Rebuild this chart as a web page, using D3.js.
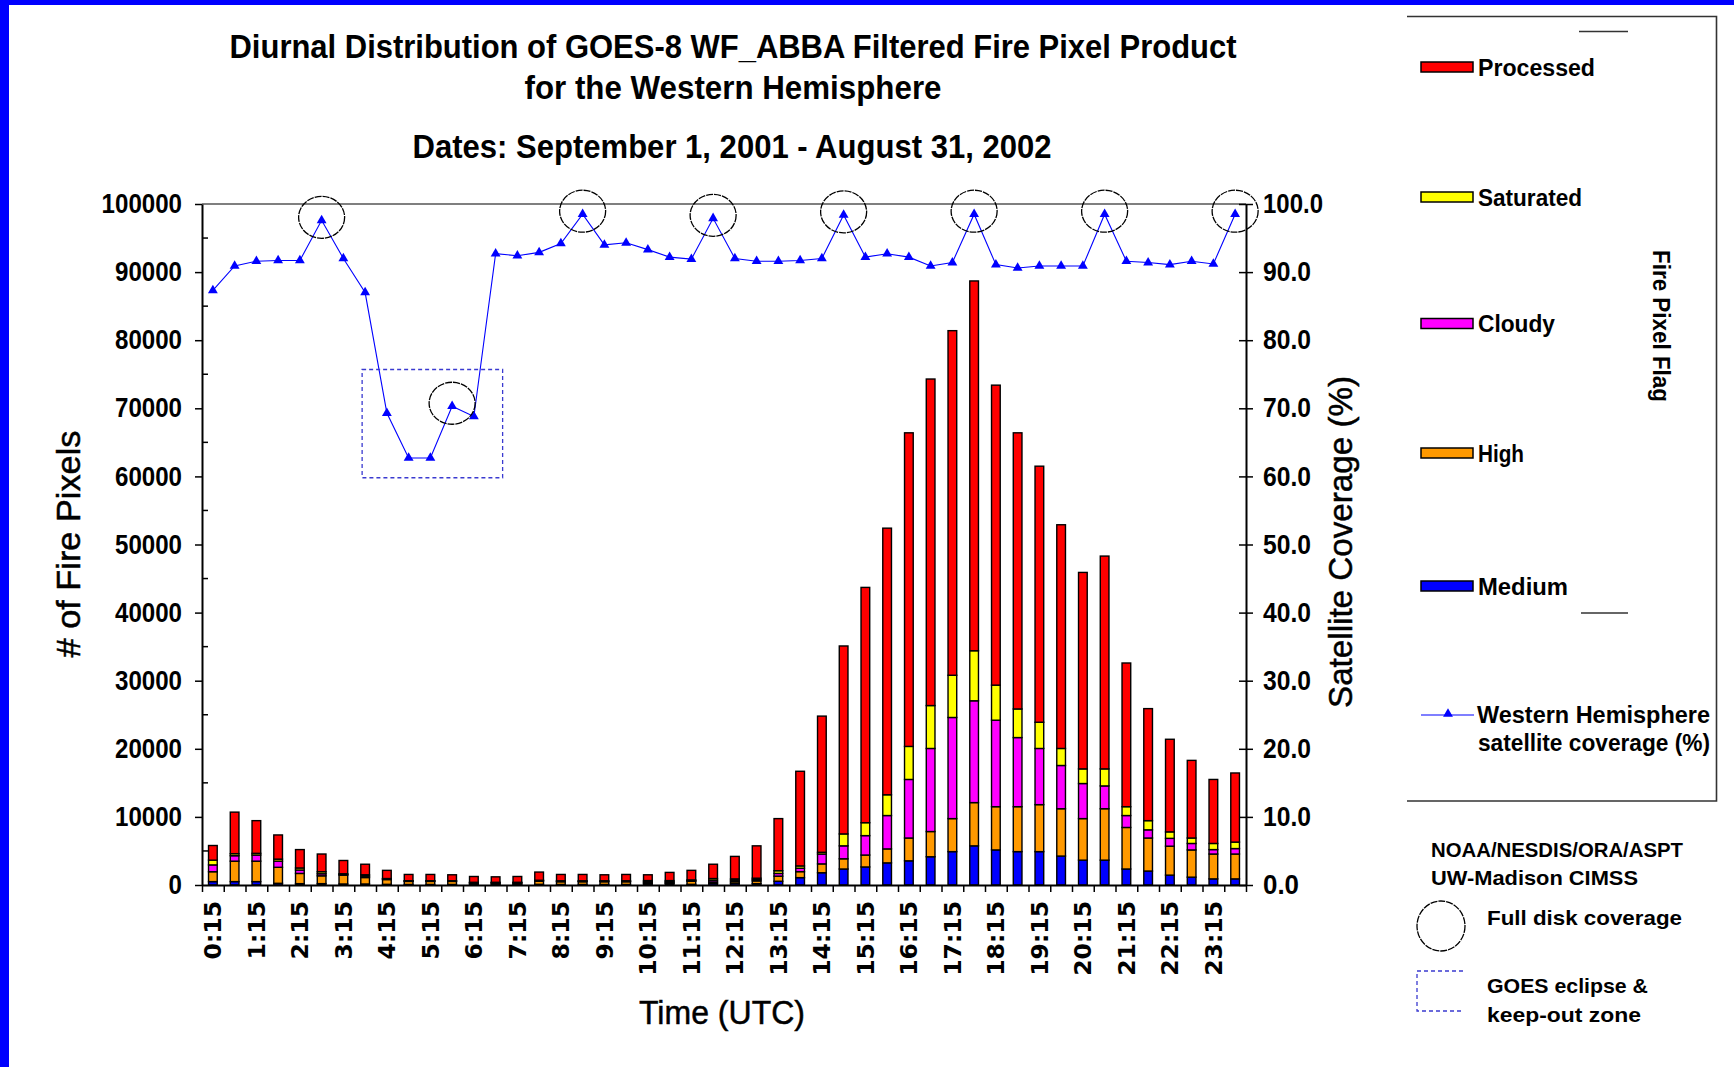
<!DOCTYPE html>
<html>
<head>
<meta charset="utf-8">
<script src="https://cdn.jsdelivr.net/npm/d3@7"></script>
<style>
  html, body { margin: 0; padding: 0; background: #fff; }
  svg { display: block; }
</style>
</head>
<body>
<svg id="chart" width="1734" height="1067"></svg>
<script>
// Half-hourly UTC slots (one stacked bar each)
const times = [
  "0:15","0:45","1:15","1:45","2:15","2:45","3:15","3:45","4:15","4:45","5:15","5:45",
  "6:15","6:45","7:15","7:45","8:15","8:45","9:15","9:45","10:15","10:45","11:15","11:45",
  "12:15","12:45","13:15","13:45","14:15","14:45","15:15","15:45","16:15","16:45","17:15","17:45",
  "18:15","18:45","19:15","19:45","20:15","20:45","21:15","21:45","22:15","22:45","23:15","23:45"
];

// Fire pixel counts by flag
const medium = [
  500, 500, 500, 250, 200, 200, 150, 150, 100, 80, 80, 80,
  100, 100, 100, 100, 80, 80, 80, 80, 200, 200, 100, 250,
  250, 200, 550, 1080, 1800, 2350, 2650, 3250, 3550, 4150, 4900, 5750,
  5150, 4900, 4900, 4250, 3650, 3650, 2350, 2050, 1450, 1150, 900, 900
];
const high = [
  1450, 3000, 3000, 2350, 1500, 1150, 1300, 950, 700, 450, 450, 450,
  150, 150, 150, 450, 400, 400, 400, 400, 150, 150, 450, 200,
  250, 400, 750, 880, 1300, 1500, 1750, 2050, 3350, 3700, 4850, 6350,
  6350, 6600, 6900, 6950, 6100, 7550, 6100, 4850, 4250, 4000, 3650, 3650
];
const cloudy = [
  1000, 800, 900, 900, 500, 300, 100, 200, 100, 50, 50, 50,
  100, 100, 100, 100, 80, 80, 80, 80, 150, 150, 100, 250,
  200, 200, 400, 500, 1450, 1900, 2850, 4900, 8600, 12200, 14850, 14950,
  12700, 10150, 8250, 6350, 5150, 3350, 1750, 1200, 1150, 950, 650, 800
];
const saturated = [
  700, 300, 250, 300, 300, 300, 100, 200, 50, 50, 50, 50,
  50, 50, 50, 50, 60, 60, 60, 60, 150, 150, 100, 250,
  200, 200, 400, 340, 250, 1750, 1900, 3050, 4850, 6300, 6200, 7350,
  5150, 4200, 3850, 2500, 2150, 2500, 1300, 1350, 950, 800, 900, 950
];
const processed = [
  2150, 6100, 4800, 3550, 2700, 2600, 1950, 1550, 1200, 920, 920, 870,
  850, 800, 850, 1200, 930, 930, 880, 930, 850, 1200, 1400, 2100,
  3300, 4750, 7650, 13900, 20000, 27600, 34550, 39150, 46050, 47950, 50600, 54300,
  44050, 40550, 37600, 32850, 28850, 31250, 21100, 16450, 13600, 11400, 9400, 10150
];

// Western Hemisphere satellite coverage (%)
const coverage = [
  87.3, 90.9, 91.6, 91.7, 91.7, 97.6, 92.0, 87.0, 69.3, 62.7, 62.7, 70.3,
  68.8, 92.7, 92.4, 92.9, 94.2, 98.5, 94.0, 94.3, 93.3, 92.2, 91.9, 97.9,
  92.0, 91.6, 91.6, 91.7, 92.0, 98.4, 92.2, 92.7, 92.2, 90.9, 91.4, 98.5,
  91.1, 90.6, 90.9, 90.9, 90.9, 98.5, 91.6, 91.4, 91.1, 91.6, 91.2, 98.5
];

// Slots with full disk coverage
const fullDiskTimes = ["2:45","5:45","8:45","11:45","14:45","17:45","20:45","23:45"];

// GOES eclipse & keep-out zone (first slot, last slot, coverage range)
const eclipseSlots = ["3:45", "6:45"];
const eclipseRange = [59.8, 75.7];

// Axis ticks
const xTickLabels = ["0:15","1:15","2:15","3:15","4:15","5:15","6:15","7:15","8:15","9:15","10:15","11:15",
  "12:15","13:15","14:15","15:15","16:15","17:15","18:15","19:15","20:15","21:15","22:15","23:15"];
const yTicks = [0,10000,20000,30000,40000,50000,60000,70000,80000,90000,100000];
const coverageTicks = [0,10,20,30,40,50,60,70,80,90,100];

const flagKeys = ["medium","high","cloudy","saturated","processed"];
const flagNames = {processed:"Processed", saturated:"Saturated", cloudy:"Cloudy", high:"High", medium:"Medium"};
const flagColors = {processed:"#ff0000", saturated:"#ffff00", cloudy:"#ff00ff", high:"#ff9900", medium:"#0000ff"};

// ---------------------------------------------------------------------------
const W = 1734, H = 1067;
const plot = {left: 202, right: 1246, top: 204, bottom: 885};
const svg = d3.select("#chart");
const SANS = "'Liberation Sans', Arial, sans-serif";
const WIDE = "'DejaVu Sans', Verdana, sans-serif";

svg.append("rect").attr("width", W).attr("height", H).attr("fill", "#fff");
svg.append("rect").attr("x", 0).attr("y", 0).attr("width", W).attr("height", 5).attr("fill", "#0000ff");
svg.append("rect").attr("x", 0).attr("y", 0).attr("width", 9).attr("height", H).attr("fill", "#0000ff");

function label(parent, txt, x, y, o = {}) {
  const t = parent.append("text")
    .attr("x", x).attr("y", y)
    .attr("font-family", o.family || SANS)
    .attr("font-size", o.size || 20)
    .attr("font-weight", o.weight || "bold")
    .attr("text-anchor", o.anchor || "start")
    .attr("fill", "#000")
    .text(txt);
  if (o.len) t.attr("textLength", o.len).attr("lengthAdjust", "spacingAndGlyphs");
  if (o.rotate) t.attr("transform", `rotate(${o.rotate},${x},${y})`);
  if (o.heavy) t.attr("stroke", "#000").attr("stroke-width", o.heavy);
  return t;
}

// Titles
label(svg, "Diurnal Distribution of GOES-8 WF_ABBA Filtered Fire Pixel Product", 733, 58, {size: 34, anchor: "middle", len: 1007});
label(svg, "for the Western Hemisphere", 733, 99, {size: 34, anchor: "middle", len: 417});
label(svg, "Dates: September 1, 2001 - August 31, 2002", 732, 158, {size: 34, anchor: "middle", len: 639});

// Scales
const x = d3.scaleBand().domain(times).range([plot.left, plot.right]).paddingInner(0.6).paddingOuter(0.3);
const xc = t => x(t) + x.bandwidth() / 2;
const slotEdge = d3.scaleLinear().domain([0, times.length]).range([plot.left, plot.right]);
const y = d3.scaleLinear().domain([0, 100000]).range([plot.bottom, plot.top]);
const yCov = d3.scaleLinear().domain([0, 100]).range([plot.bottom, plot.top]);

// Stacked bars
const rows = times.map((t, i) => ({time: t, medium: medium[i], high: high[i], cloudy: cloudy[i], saturated: saturated[i], processed: processed[i]}));
const series = d3.stack().keys(flagKeys)(rows);
svg.append("g").selectAll("g").data(series).join("g")
  .attr("fill", d => flagColors[d.key])
  .selectAll("rect").data(d => d).join("rect")
  .attr("x", d => x(d.data.time))
  .attr("width", x.bandwidth())
  .attr("y", d => y(d[1]))
  .attr("height", d => y(d[0]) - y(d[1]))
  .attr("stroke", "#000").attr("stroke-width", 1.4);

// Left axis
const gL = svg.append("g").attr("transform", `translate(${plot.left},0)`)
  .call(d3.axisLeft(y).tickValues(yTicks).tickSize(7).tickSizeOuter(0).tickPadding(13).tickFormat(d3.format("d")));
gL.select(".domain").attr("stroke-width", 2);
gL.selectAll(".tick line").attr("stroke-width", 1.5);
gL.selectAll(".tick text")
  .attr("font-family", SANS).attr("font-size", 27).attr("font-weight", "bold").attr("fill", "#000")
  .attr("textLength", d => String(d).length * 13.4).attr("lengthAdjust", "spacingAndGlyphs");
gL.selectAll("line.minor").data(yTicks.slice(0, -1)).join("line").attr("class", "minor")
  .attr("x1", 0).attr("x2", 6).attr("y1", d => y(d + 5000)).attr("y2", d => y(d + 5000))
  .attr("stroke", "#000").attr("stroke-width", 1.5);

// Right axis
const gR = svg.append("g").attr("transform", `translate(${plot.right},0)`)
  .call(d3.axisRight(yCov).tickValues(coverageTicks).tickSize(7).tickSizeOuter(0).tickPadding(10).tickFormat(d3.format(".1f")));
gR.select(".domain").attr("stroke-width", 2);
gR.selectAll(".tick line").attr("x1", -7).attr("stroke-width", 1.5);
gR.selectAll(".tick text")
  .attr("font-family", SANS).attr("font-size", 27).attr("font-weight", "bold").attr("fill", "#000")
  .attr("textLength", d => d3.format(".1f")(d).length * 12).attr("lengthAdjust", "spacingAndGlyphs");

// Top frame line
svg.append("line").attr("x1", plot.left).attr("x2", plot.right).attr("y1", plot.top).attr("y2", plot.top)
  .attr("stroke", "#000").attr("stroke-width", 1.2);

// Bottom axis: slot boundary ticks, then time labels
const gB = svg.append("g").attr("transform", `translate(0,${plot.bottom})`)
  .call(d3.axisBottom(slotEdge).tickValues(d3.range(times.length + 1)).tickSize(7).tickSizeOuter(0).tickFormat(""));
gB.select(".domain").attr("stroke-width", 2);
gB.selectAll(".tick line").attr("stroke-width", 1.5);

const gBL = svg.append("g").attr("transform", `translate(0,${plot.bottom})`)
  .call(d3.axisBottom(x).tickValues(xTickLabels).tickSize(0).tickSizeOuter(0));
gBL.select(".domain").remove();
gBL.selectAll(".tick text")
  .attr("font-family", WIDE).attr("font-size", 23.5).attr("font-weight", "bold").attr("fill", "#000")
  .attr("transform", "rotate(-90)").attr("text-anchor", "end")
  .attr("x", -16).attr("y", 0).attr("dy", "0.36em");

// Axis titles
label(svg, "# of Fire Pixels", 80, 544, {size: 34, weight: "normal", anchor: "middle", rotate: -90, len: 227, heavy: 0.5});
label(svg, "Satellite Coverage (%)", 1352, 542, {size: 34, weight: "normal", anchor: "middle", rotate: -90, len: 332, heavy: 0.5});
label(svg, "Time (UTC)", 722, 1024, {size: 34, weight: "normal", anchor: "middle", len: 166, heavy: 0.5});

// Coverage line and markers
const covPts = times.map((t, i) => ({time: t, v: coverage[i]}));
svg.append("path").datum(covPts)
  .attr("fill", "none").attr("stroke", "#0000ff").attr("stroke-width", 1.1)
  .attr("d", d3.line().x(d => xc(d.time)).y(d => yCov(d.v)));
const tri = d3.symbol(d3.symbolTriangle).size(42);
svg.append("g").selectAll("path").data(covPts).join("path")
  .attr("transform", d => `translate(${xc(d.time)},${yCov(d.v)})`)
  .attr("d", tri).attr("fill", "#0000ff");

// Full disk coverage rings
svg.append("g").selectAll("ellipse").data(fullDiskTimes).join("ellipse")
  .attr("cx", t => xc(t))
  .attr("cy", t => yCov(coverage[times.indexOf(t)]) - 3)
  .attr("rx", 23).attr("ry", 21)
  .attr("fill", "none").attr("stroke", "#000").attr("stroke-width", 1.3).attr("stroke-dasharray", "7,1");

// Eclipse / keep-out zone
const ex0 = xc(eclipseSlots[0]) - 3, ex1 = xc(eclipseSlots[1]) + 7;
svg.append("rect")
  .attr("x", ex0).attr("width", ex1 - ex0)
  .attr("y", yCov(eclipseRange[1])).attr("height", yCov(eclipseRange[0]) - yCov(eclipseRange[1]))
  .attr("fill", "none").attr("stroke", "#3a3ad0").attr("stroke-width", 1.3).attr("stroke-dasharray", "4,3");

// Legend box
const lg = svg.append("g");
lg.append("path").attr("d", "M1407,16.5 H1716.5 V801 H1407")
  .attr("fill", "none").attr("stroke", "#333").attr("stroke-width", 1.6);
lg.append("line").attr("x1", 1579).attr("x2", 1628).attr("y1", 31.5).attr("y2", 31.5).attr("stroke", "#333").attr("stroke-width", 1.5);
lg.append("line").attr("x1", 1581).attr("x2", 1628).attr("y1", 613).attr("y2", 613).attr("stroke", "#333").attr("stroke-width", 1.5);
label(lg, "Fire Pixel Flag", 1653, 326, {size: 23, anchor: "middle", rotate: 90, len: 152});

const legendItems = [
  {key: "processed", y: 67, len: 117},
  {key: "saturated", y: 197, len: 104},
  {key: "cloudy", y: 323.5, len: 77},
  {key: "high", y: 453, len: 46},
  {key: "medium", y: 586, len: 90}
];
legendItems.forEach(it => {
  lg.append("rect").attr("x", 1421).attr("y", it.y - 5).attr("width", 52).attr("height", 10)
    .attr("fill", flagColors[it.key]).attr("stroke", "#000").attr("stroke-width", 1.5);
  label(lg, flagNames[it.key], 1478, it.y + 8.5, {size: 23, len: it.len});
});
lg.append("line").attr("x1", 1421).attr("x2", 1474).attr("y1", 715).attr("y2", 715).attr("stroke", "#0000ff").attr("stroke-width", 1.1);
lg.append("path").attr("transform", "translate(1448,714)").attr("d", tri).attr("fill", "#0000ff");
label(lg, "Western Hemisphere", 1477, 723, {size: 23, len: 233});
label(lg, "satellite coverage (%)", 1478, 751, {size: 23, len: 232});

// Credits and annotation key
label(svg, "NOAA/NESDIS/ORA/ASPT", 1431, 857, {size: 21, len: 252});
label(svg, "UW-Madison CIMSS", 1431, 885, {size: 21, len: 207});
svg.append("ellipse").attr("cx", 1441).attr("cy", 926).attr("rx", 24).attr("ry", 25)
  .attr("fill", "none").attr("stroke", "#000").attr("stroke-width", 1.3).attr("stroke-dasharray", "7,1");
label(svg, "Full disk coverage", 1487, 925, {size: 21, len: 195});
svg.append("path").attr("d", "M1463,971 H1417 V1011 H1463")
  .attr("fill", "none").attr("stroke", "#3a3ad0").attr("stroke-width", 1.3).attr("stroke-dasharray", "4,3");
label(svg, "GOES eclipse &", 1487, 993, {size: 21, len: 161});
label(svg, "keep-out zone", 1487, 1022, {size: 21, len: 154});
</script>
</body>
</html>
